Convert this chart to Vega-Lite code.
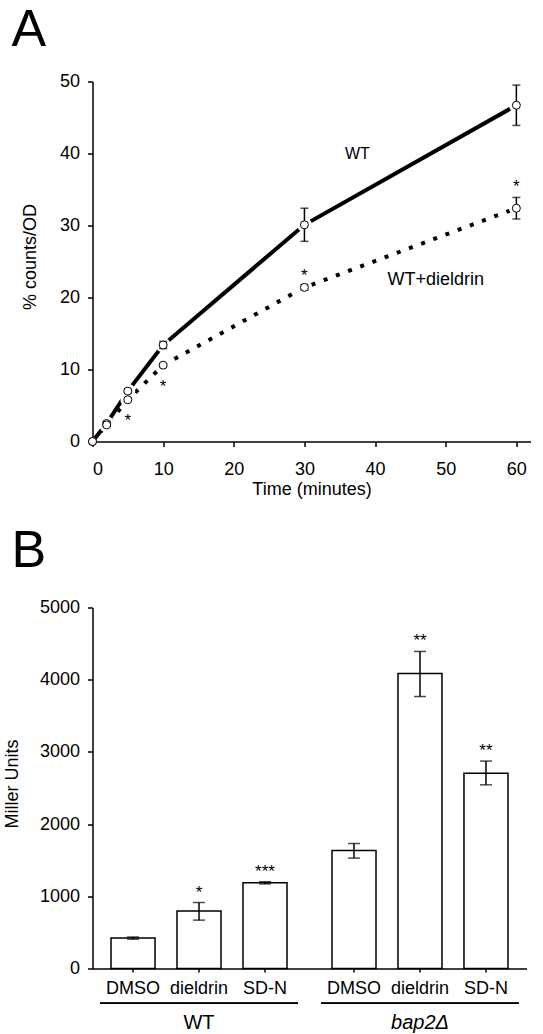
{
  "$schema": "https://vega.github.io/schema/vega-lite/v6.json",
  "padding": {"left": 3.5, "top": 3.5, "right": 0, "bottom": 0},
  "background": "white",
  "config": {
    "font": "Liberation Sans",
    "view": {"stroke": null},
    "axis": {"grid": false, "domainColor": "black", "tickColor": "black", "labelColor": "black", "titleColor": "black", "labelFontSize": 18, "titleFontSize": 18, "titleFontWeight": "normal", "domainWidth": 1.5, "tickWidth": 1.5, "zindex": 1}
  },
  "spacing": 166,
  "bounds": "flush",
  "datasets": {
    "timecourse": [
      {"time": 0, "strain": "WT", "mean": 0, "lo": 0, "hi": 0},
      {"time": 2, "strain": "WT", "mean": 2.5, "lo": 2.2, "hi": 2.8},
      {"time": 5, "strain": "WT", "mean": 7.0, "lo": 6.7, "hi": 7.3},
      {"time": 10, "strain": "WT", "mean": 13.4, "lo": 12.9, "hi": 13.9},
      {"time": 30, "strain": "WT", "mean": 30.1, "lo": 27.8, "hi": 32.4},
      {"time": 60, "strain": "WT", "mean": 46.7, "lo": 43.9, "hi": 49.5},
      {"time": 0, "strain": "WT+dieldrin", "mean": 0, "lo": 0, "hi": 0},
      {"time": 2, "strain": "WT+dieldrin", "mean": 2.3, "lo": 2.1, "hi": 2.5},
      {"time": 5, "strain": "WT+dieldrin", "mean": 5.8, "lo": 5.6, "hi": 6.0},
      {"time": 10, "strain": "WT+dieldrin", "mean": 10.6, "lo": 10.4, "hi": 10.8},
      {"time": 30, "strain": "WT+dieldrin", "mean": 21.4, "lo": 21.0, "hi": 21.8},
      {"time": 60, "strain": "WT+dieldrin", "mean": 32.4, "lo": 30.9, "hi": 33.9}
    ],
    "labelsA": [
      {"time": 37.5, "value": 40.0, "text": "WT"},
      {"time": 48.6, "value": 22.5, "text": "WT+dieldrin"}
    ],
    "starsA": [
      {"time": 5, "value": 3.5, "label": "*"},
      {"time": 10, "value": 8.2, "label": "*"},
      {"time": 30, "value": 23.7, "label": "*"},
      {"time": 60, "value": 36.0, "label": "*"}
    ],
    "bars": [
      {"group": "WT", "treatment": "DMSO", "mean": 421, "lo": 406, "hi": 436, "stars": ""},
      {"group": "WT", "treatment": "dieldrin", "mean": 795, "lo": 670, "hi": 914, "stars": "*"},
      {"group": "WT", "treatment": "SD-N", "mean": 1187, "lo": 1172, "hi": 1202, "stars": "***"},
      {"group": "bap2Δ", "treatment": "DMSO", "mean": 1634, "lo": 1529, "hi": 1731, "stars": ""},
      {"group": "bap2Δ", "treatment": "dieldrin", "mean": 4086, "lo": 3767, "hi": 4391, "stars": "**"},
      {"group": "bap2Δ", "treatment": "SD-N", "mean": 2706, "lo": 2544, "hi": 2873, "stars": "**"}
    ]
  },
  "vconcat": [
    {
      "width": 438,
      "height": 360,
      "title": {"text": "A", "fontSize": 52, "fontWeight": "normal", "anchor": "start", "frame": "group", "dx": -81, "baseline": "alphabetic", "offset": -25.3, "color": "black"},
      "layer": [
        {
          "data": {"name": "timecourse"},
          "transform": [{"filter": "datum.strain === 'WT'"}],
          "mark": {"type": "line", "color": "black", "strokeWidth": 4, "strokeCap": "butt"},
          "encoding": {
            "x": {"field": "time", "type": "quantitative", "scale": {"domain": [0, 62], "nice": false},
              "axis": {"title": "Time (minutes)", "values": [0, 10, 20, 30, 40, 50, 60], "tickSize": 5, "labelPadding": 14, "titlePadding": 2}},
            "y": {"field": "mean", "type": "quantitative", "scale": {"domain": [0, 50], "nice": false},
              "axis": {"title": "% counts/OD", "values": [0, 5, 10, 15, 20, 25, 30, 35, 40, 45, 50],
                "labelExpr": "datum.value % 10 === 0 ? datum.label : ''",
                "tickSize": {"condition": {"test": "datum.value % 10 === 0", "value": 5}, "value": 3},
                "labelPadding": 8, "titlePadding": 20, "titleY": 175}}
          }
        },
        {
          "data": {"name": "timecourse"},
          "transform": [{"filter": "datum.strain === 'WT+dieldrin'"}],
          "mark": {"type": "line", "color": "black", "strokeWidth": 4, "strokeCap": "butt", "strokeDash": [4, 9]},
          "encoding": {
            "x": {"field": "time", "type": "quantitative"},
            "y": {"field": "mean", "type": "quantitative"}
          }
        },
        {
          "data": {"name": "timecourse"},
          "transform": [{"filter": "datum.time > 0"}],
          "mark": {"type": "point", "shape": "circle", "filled": true, "fill": "white", "stroke": null, "opacity": 1, "size": 220},
          "encoding": {
            "x": {"field": "time", "type": "quantitative"},
            "y": {"field": "mean", "type": "quantitative"}
          }
        },
        {
          "data": {"name": "timecourse"},
          "mark": {"type": "rule", "color": "black", "strokeWidth": 1.5},
          "encoding": {
            "x": {"field": "time", "type": "quantitative"},
            "y": {"field": "lo", "type": "quantitative"},
            "y2": {"field": "hi"}
          }
        },
        {
          "data": {"name": "timecourse"},
          "mark": {"type": "tick", "orient": "horizontal", "color": "black", "size": 8, "thickness": 1.5},
          "encoding": {
            "x": {"field": "time", "type": "quantitative"},
            "y": {"field": "lo", "type": "quantitative"}
          }
        },
        {
          "data": {"name": "timecourse"},
          "mark": {"type": "tick", "orient": "horizontal", "color": "black", "size": 8, "thickness": 1.5},
          "encoding": {
            "x": {"field": "time", "type": "quantitative"},
            "y": {"field": "hi", "type": "quantitative"}
          }
        },
        {
          "data": {"name": "timecourse"},
          "mark": {"type": "point", "shape": "circle", "filled": true, "fill": "white", "stroke": "black", "strokeWidth": 1, "opacity": 1, "size": 64},
          "encoding": {
            "x": {"field": "time", "type": "quantitative"},
            "y": {"field": "mean", "type": "quantitative"}
          }
        },
        {
          "data": {"name": "labelsA"},
          "transform": [{"filter": "datum.text === 'WT'"}],
          "mark": {"type": "text", "fontSize": 16, "align": "center", "baseline": "middle", "color": "black"},
          "encoding": {
            "x": {"field": "time", "type": "quantitative"},
            "y": {"field": "value", "type": "quantitative"},
            "text": {"field": "text"}
          }
        },
        {
          "data": {"name": "labelsA"},
          "transform": [{"filter": "datum.text !== 'WT'"}],
          "mark": {"type": "text", "fontSize": 18, "align": "center", "baseline": "middle", "color": "black"},
          "encoding": {
            "x": {"field": "time", "type": "quantitative"},
            "y": {"field": "value", "type": "quantitative"},
            "text": {"field": "text"}
          }
        },
        {
          "data": {"name": "starsA"},
          "mark": {"type": "text", "fontSize": 17, "align": "center", "baseline": "alphabetic", "dy": 10, "color": "black"},
          "encoding": {
            "x": {"field": "time", "type": "quantitative"},
            "y": {"field": "value", "type": "quantitative"},
            "text": {"field": "label"}
          }
        }
      ]
    },
    {
      "width": 434,
      "height": 361,
      "title": {"text": "B", "fontSize": 52, "fontWeight": "normal", "anchor": "start", "frame": "group", "dx": -81, "baseline": "alphabetic", "offset": -20.3, "color": "black"},
      "data": {"name": "bars"},
      "layer": [
        {
          "mark": {"type": "bar", "fill": "white", "stroke": "black", "strokeWidth": 1.5},
          "encoding": {
            "x": {"field": "group", "type": "nominal", "sort": null,
              "scale": {"domain": ["WT", "bap2Δ"], "paddingInner": 0.104, "paddingOuter": 0.034},
              "axis": {"title": null, "ticks": false, "labelAngle": 0, "labelFontSize": 20, "labelPadding": 44,
                "labelFontStyle": {"condition": {"test": "datum.value === 'bap2Δ'", "value": "italic"}, "value": "normal"}}},
            "xOffset": {"field": "treatment", "type": "nominal", "sort": null,
              "scale": {"domain": ["DMSO", "dieldrin", "SD-N"], "paddingInner": 0.333, "paddingOuter": 0.1667}},
            "y": {"field": "mean", "type": "quantitative", "scale": {"domain": [0, 5000], "nice": false},
              "axis": {"title": "Miller Units", "format": "d", "values": [0, 500, 1000, 1500, 2000, 2500, 3000, 3500, 4000, 4500, 5000],
                "labelExpr": "datum.value % 1000 === 0 ? datum.label : ''",
                "tickSize": {"condition": {"test": "datum.value % 1000 === 0", "value": 5}, "value": 3},
                "labelPadding": 8, "titlePadding": 17.5, "titleY": 176}}
          }
        },
        {
          "mark": {"type": "rule", "color": "black", "strokeWidth": 1.5},
          "encoding": {
            "x": {"field": "group", "type": "nominal"},
            "xOffset": {"field": "treatment", "type": "nominal"},
            "y": {"field": "lo", "type": "quantitative"},
            "y2": {"field": "hi"}
          }
        },
        {
          "mark": {"type": "tick", "orient": "horizontal", "color": "black", "size": 12, "thickness": 1.5},
          "encoding": {
            "x": {"field": "group", "type": "nominal"},
            "xOffset": {"field": "treatment", "type": "nominal"},
            "y": {"field": "lo", "type": "quantitative"}
          }
        },
        {
          "mark": {"type": "tick", "orient": "horizontal", "color": "black", "size": 12, "thickness": 1.5},
          "encoding": {
            "x": {"field": "group", "type": "nominal"},
            "xOffset": {"field": "treatment", "type": "nominal"},
            "y": {"field": "hi", "type": "quantitative"}
          }
        },
        {
          "mark": {"type": "rule", "color": "black", "strokeWidth": 1.5, "y2Offset": 4},
          "encoding": {
            "x": {"field": "group", "type": "nominal"},
            "xOffset": {"field": "treatment", "type": "nominal"},
            "y": {"datum": 0, "type": "quantitative"},
            "y2": {"datum": 0}
          }
        },
        {
          "mark": {"type": "text", "fontSize": 18, "align": "center", "baseline": "middle", "dy": 20, "color": "black"},
          "encoding": {
            "x": {"field": "group", "type": "nominal"},
            "xOffset": {"field": "treatment", "type": "nominal"},
            "y": {"datum": 0, "type": "quantitative"},
            "text": {"field": "treatment"}
          }
        },
        {
          "mark": {"type": "bar", "color": "black", "yOffset": 34, "y2Offset": 35.5},
          "encoding": {
            "x": {"field": "group", "type": "nominal"},
            "y": {"datum": 0, "type": "quantitative"},
            "y2": {"datum": 0}
          }
        },
        {
          "mark": {"type": "text", "fontSize": 17, "align": "center", "baseline": "alphabetic", "dy": -5, "color": "black"},
          "encoding": {
            "x": {"field": "group", "type": "nominal"},
            "xOffset": {"field": "treatment", "type": "nominal"},
            "y": {"field": "hi", "type": "quantitative"},
            "text": {"field": "stars"}
          }
        }
      ]
    }
  ]
}
